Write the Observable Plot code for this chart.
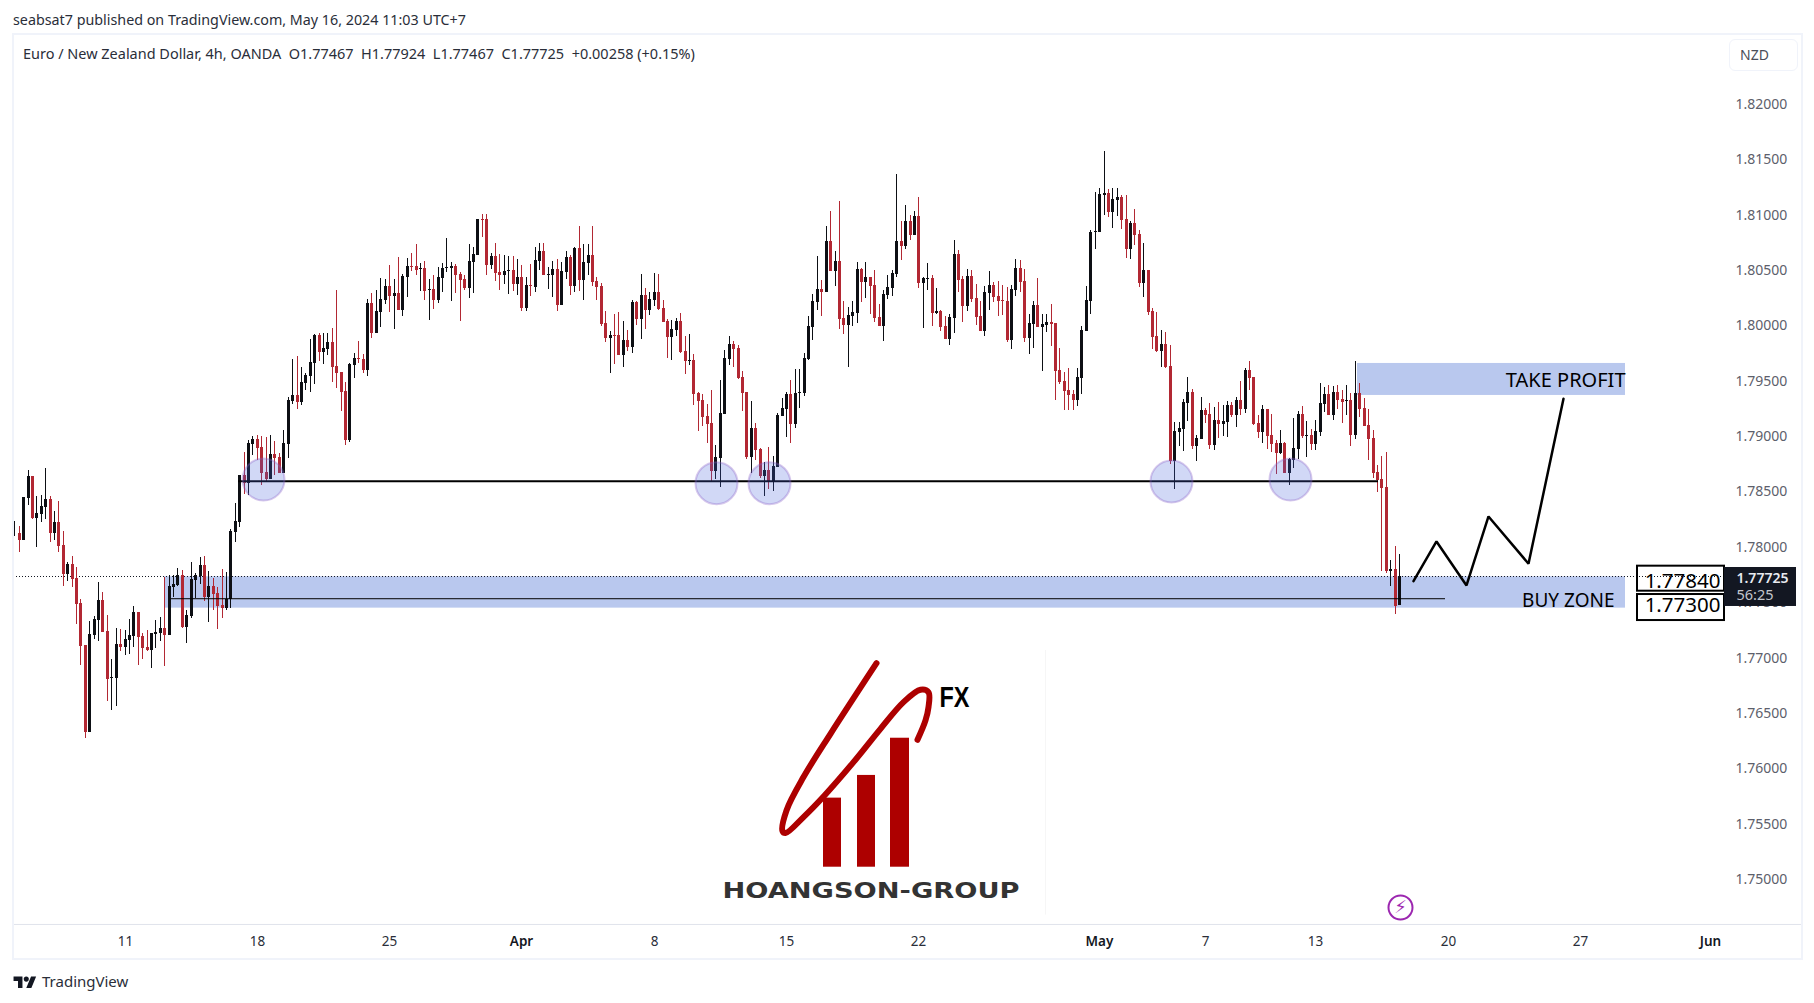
<!DOCTYPE html>
<html>
<head>
<meta charset="utf-8">
<script src="https://cdn.jsdelivr.net/npm/d3@7"></script>
<script src="https://cdn.jsdelivr.net/npm/@observablehq/plot@0.6"></script>
<style>
  html,body{margin:0;padding:0;background:#fff;width:1814px;height:1003px;overflow:hidden;}
  body{font-family:"Noto Sans",sans-serif;color:#131722;}
  #wrap{position:relative;width:1814px;height:1003px;}
  #pub{position:absolute;left:13px;top:10px;font-size:14.3px;line-height:20px;color:#2a2e39;white-space:pre;}
  #legend{position:absolute;left:23px;top:44px;font-size:14.47px;line-height:20px;color:#2a2e39;white-space:pre;}
  #frame{position:absolute;left:12px;top:33px;width:1787px;height:923px;border:2px solid #f0f3fa;pointer-events:none;}
  #nzd{position:absolute;left:1729px;top:39px;width:67px;height:30px;border:1px solid #f0f3fa;border-radius:6px;font-size:14px;line-height:30px;color:#4a4e59;text-indent:10px;}
  #chart{position:absolute;left:0;top:33px;}
  #foot{position:absolute;left:13px;top:970px;font-size:15px;line-height:22px;color:#2a2e39;display:flex;align-items:center;gap:5px;}
</style>
</head>
<body>
<div id="wrap">
  <div id="pub">seabsat7 published on TradingView.com, May 16, 2024 11:03 UTC+7</div>
  <div id="chart"></div>
  <div id="frame"></div>
  <div id="legend">Euro / New Zealand Dollar, 4h, OANDA  O1.77467  H1.77924  L1.77467  C1.77725  +0.00258 (+0.15%)</div>
  <div id="nzd">NZD</div>
  <div id="foot"><svg width="24" height="14" viewBox="0 0 36 22"><path d="M14 22H7V11H0V4h14v18zM28 22h-8l7.5-18h8L28 22z" fill="#131722"/><circle cx="20" cy="8" r="4" fill="#131722"/></svg><span>TradingView</span></div>
</div>
<script>
// [open, high, low, close] per 4h bar
const weekMar04 = [
[1.78114,1.78225,1.78090,1.78117],[1.78117,1.78180,1.77945,1.78053],[1.78053,1.78439,1.78053,1.78439],[1.78433,1.78685,1.78369,1.78631],[1.78631,1.78631,1.78243,1.78249],
[1.78252,1.78451,1.77990,1.78297],[1.78288,1.78460,1.78216,1.78360],[1.78351,1.78704,1.78243,1.78424],[1.78424,1.78451,1.78035,1.78117],[1.78117,1.78315,1.78053,1.78216],
[1.78216,1.78406,1.77945,1.77999],[1.78008,1.78135,1.77638,1.77746],[1.77746,1.77855,1.77683,1.77837],[1.77837,1.77909,1.77629,1.77701],[1.77710,1.77810,1.77295,1.77475],
[1.77485,1.77521,1.76925,1.77096],[1.77105,1.77105,1.76265,1.76320],[1.76320,1.77322,1.76320,1.77205],[1.77196,1.77367,1.77159,1.77340],[1.77331,1.77674,1.77141,1.77512],
[1.77512,1.77584,1.77223,1.77223],[1.77232,1.77376,1.76600,1.76798],[1.76810,1.76979,1.76518,1.76816],[1.76807,1.77259,1.76554,1.77114],[1.77114,1.77250,1.77051,1.77084]];
const weekMar11 = [
[1.77087,1.77241,1.77015,1.77159],[1.77153,1.77340,1.77024,1.77196],[1.77187,1.77457,1.77087,1.77403],[1.77403,1.77403,1.76925,1.77177],[1.77187,1.77214,1.76979,1.77078],
[1.77087,1.77241,1.77051,1.77060],[1.77060,1.77214,1.76898,1.77214],[1.77205,1.77331,1.77078,1.77223],[1.77214,1.77358,1.77141,1.77259],[1.77259,1.77716,1.76916,1.77196],
[1.77196,1.77737,1.77196,1.77638],[1.77629,1.77737,1.77539,1.77656],[1.77647,1.77801,1.77638,1.77737],[1.77737,1.77782,1.77259,1.77268],[1.77268,1.77421,1.77123,1.77376],
[1.77367,1.77855,1.77349,1.77701],[1.77692,1.77755,1.77530,1.77737],[1.77728,1.77900,1.77656,1.77828],[1.77828,1.77909,1.77503,1.77539],[1.77539,1.77773,1.77313,1.77638],
[1.77638,1.77710,1.77421,1.77566],[1.77575,1.77629,1.77250,1.77457],[1.77466,1.77792,1.77349,1.77439],[1.77439,1.77764,1.77421,1.77521],[1.77521,1.78153,1.77439,1.78135],
[1.78126,1.78388,1.78035,1.78225],[1.78216,1.78640,1.78171,1.78640],[1.78640,1.78848,1.78469,1.78568],[1.78568,1.78956,1.78460,1.78929],[1.78920,1.78993,1.78821,1.78965]];
const weekMar18 = [
[1.78965,1.79002,1.78776,1.78884],[1.78893,1.78993,1.78550,1.78658],[1.78667,1.78983,1.78577,1.78604],[1.78604,1.79002,1.78604,1.78830],[1.78830,1.78947,1.78640,1.78794],
[1.78803,1.78839,1.78658,1.78658],[1.78658,1.79047,1.78658,1.78929],[1.78921,1.79345,1.78794,1.79318],[1.79309,1.79688,1.79282,1.79363],[1.79363,1.79715,1.79237,1.79300],
[1.79300,1.79616,1.79273,1.79481],[1.79472,1.79562,1.79408,1.79544],[1.79535,1.79869,1.79390,1.79661],[1.79652,1.79914,1.79462,1.79905],[1.79905,1.79923,1.79670,1.79751],
[1.79751,1.79923,1.79643,1.79788],[1.79779,1.79923,1.79724,1.79842],[1.79842,1.79968,1.79481,1.79616],[1.79625,1.80311,1.79426,1.79562],[1.79571,1.79571,1.79219,1.79390],
[1.79399,1.79481,1.78912,1.78957],[1.78957,1.79652,1.78939,1.79643],[1.79634,1.79742,1.79517,1.79697],[1.79697,1.79851,1.79652,1.79688],[1.79688,1.79733,1.79562,1.79589],
[1.79589,1.80230,1.79535,1.80194],[1.80194,1.80284,1.79878,1.79923],[1.79923,1.80311,1.79923,1.80122],[1.80113,1.80420,1.79977,1.80230],[1.80221,1.80411,1.80185,1.80347]];
const weekMar25 = [
[1.80347,1.80537,1.80113,1.80257],[1.80257,1.80411,1.79959,1.80284],[1.80284,1.80609,1.80131,1.80131],[1.80131,1.80456,1.80077,1.80438],[1.80429,1.80600,1.80248,1.80528],
[1.80528,1.80645,1.80483,1.80519],[1.80528,1.80727,1.80447,1.80492],[1.80501,1.80555,1.80302,1.80510],[1.80510,1.80573,1.80221,1.80302],[1.80311,1.80411,1.80040,1.80320],
[1.80320,1.80447,1.80140,1.80221],[1.80221,1.80519,1.80194,1.80429],[1.80420,1.80555,1.80293,1.80510],[1.80510,1.80781,1.80474,1.80519],[1.80510,1.80564,1.80212,1.80528],
[1.80528,1.80546,1.80284,1.80447],[1.80456,1.80474,1.80031,1.80402],[1.80411,1.80447,1.80311,1.80329],[1.80329,1.80727,1.80239,1.80573],[1.80564,1.80700,1.80284,1.80636],
[1.80627,1.80952,1.80627,1.80952],[1.80952,1.80998,1.80790,1.80943],[1.80952,1.80998,1.80447,1.80537],[1.80537,1.80645,1.80501,1.80618],[1.80618,1.80736,1.80393,1.80465],
[1.80474,1.80636,1.80311,1.80447],[1.80447,1.80627,1.80365,1.80483],[1.80483,1.80618,1.80275,1.80492],[1.80492,1.80618,1.80302,1.80365],[1.80365,1.80591,1.80266,1.80429]];
const weekApr01 = [
[1.80429,1.80537,1.80122,1.80149],[1.80149,1.80429,1.80122,1.80356],[1.80356,1.80546,1.80257,1.80347],[1.80338,1.80700,1.80293,1.80582],[1.80573,1.80736,1.80492,1.80663],
[1.80663,1.80736,1.80447,1.80447],[1.80447,1.80519,1.80320,1.80456],[1.80447,1.80573,1.80248,1.80501],[1.80501,1.80591,1.80122,1.80176],[1.80176,1.80564,1.80176,1.80483],
[1.80474,1.80663,1.80411,1.80609],[1.80609,1.80627,1.80266,1.80347],[1.80347,1.80700,1.80293,1.80691],[1.80691,1.80889,1.80302,1.80402],[1.80402,1.80727,1.80221,1.80564],
[1.80555,1.80727,1.80447,1.80627],[1.80627,1.80889,1.80347,1.80384],[1.80393,1.80429,1.80221,1.80338],[1.80347,1.80375,1.79986,1.80004],[1.80013,1.80122,1.79842,1.79878],
[1.79878,1.79941,1.79562,1.79905],[1.79905,1.80095,1.79643,1.79896],[1.79905,1.80113,1.79724,1.79724],[1.79724,1.80031,1.79616,1.79860],[1.79860,1.79950,1.79760,1.79797],
[1.79797,1.80221,1.79742,1.80203],[1.80203,1.80212,1.79995,1.80049],[1.80049,1.80456,1.79869,1.80266],[1.80266,1.80329,1.79959,1.80131],[1.80131,1.80293,1.80086,1.80230]];
const weekApr08 = [
[1.80221,1.80465,1.80167,1.80293],[1.80293,1.80456,1.80131,1.80140],[1.80149,1.80221,1.80022,1.80022],[1.80031,1.80049,1.79697,1.79887],[1.79887,1.80040,1.79679,1.79959],
[1.79950,1.80058,1.79896,1.80031],[1.80031,1.80104,1.79742,1.79751],[1.79760,1.79896,1.79553,1.79670],[1.79670,1.79914,1.79634,1.79679],[1.79679,1.79733,1.79273,1.79372],
[1.79381,1.79390,1.79038,1.79309],[1.79318,1.79372,1.79083,1.79164],[1.79174,1.79282,1.78930,1.79101],[1.79110,1.79408,1.78578,1.78677],[1.78677,1.78912,1.78605,1.78803],
[1.78794,1.79499,1.78532,1.79201],[1.79192,1.79769,1.79192,1.79697],[1.79688,1.79896,1.79634,1.79824],[1.79824,1.79851,1.79616,1.79779],[1.79788,1.79815,1.79508,1.79517],
[1.79526,1.79580,1.79219,1.79381],[1.79390,1.79390,1.78785,1.78803],[1.78803,1.79309,1.78659,1.79065],[1.79065,1.79110,1.78776,1.78866],[1.78876,1.78885,1.78614,1.78632],
[1.78632,1.78758,1.78451,1.78686],[1.78686,1.78894,1.78514,1.78587],[1.78587,1.78812,1.78496,1.78722],[1.78713,1.79201,1.78713,1.79183],[1.79174,1.79336,1.79174,1.79246]];
const weekApr15 = [
[1.79237,1.79390,1.78984,1.79372],[1.79372,1.79498,1.78930,1.79101],[1.79101,1.79598,1.79065,1.79381],[1.79381,1.79598,1.79246,1.79390],[1.79381,1.79742,1.79354,1.79697],
[1.79688,1.80076,1.79679,1.79986],[1.79977,1.80275,1.79860,1.80212],[1.80203,1.80618,1.80130,1.80320],[1.80320,1.80401,1.80076,1.80293],[1.80293,1.80889,1.80293,1.80754],
[1.80754,1.81024,1.80483,1.80483],[1.80483,1.80663,1.80347,1.80573],[1.80573,1.81115,1.79959,1.80049],[1.80058,1.80212,1.79914,1.79995],[1.79995,1.80158,1.79616,1.80085],
[1.80076,1.80212,1.79986,1.80112],[1.80103,1.80564,1.80013,1.80501],[1.80501,1.80510,1.80203,1.80383],[1.80383,1.80564,1.80239,1.80428],[1.80428,1.80428,1.80094,1.80347],
[1.80356,1.80492,1.80022,1.80058],[1.80067,1.80185,1.79986,1.79986],[1.79986,1.80311,1.79851,1.80275],[1.80266,1.80447,1.80230,1.80338],[1.80329,1.80492,1.80257,1.80465],
[1.80456,1.81359,1.80428,1.80754],[1.80754,1.80934,1.80582,1.80708],[1.80708,1.81079,1.80681,1.80934],[1.80934,1.80988,1.80763,1.80808],[1.80808,1.81024,1.80808,1.80979]];
const weekApr22 = [
[1.80979,1.81151,1.80329,1.80374],[1.80374,1.80428,1.79968,1.80419],[1.80410,1.80555,1.80311,1.80419],[1.80419,1.80447,1.79986,1.80103],[1.80103,1.80329,1.80094,1.80121],
[1.80121,1.80130,1.79941,1.79977],[1.79986,1.80076,1.79869,1.79869],[1.79869,1.80094,1.79814,1.80067],[1.80058,1.80763,1.79923,1.80636],[1.80636,1.80672,1.80293,1.80401],
[1.80410,1.80438,1.80022,1.80167],[1.80167,1.80501,1.80121,1.80438],[1.80438,1.80492,1.80203,1.80230],[1.80239,1.80365,1.79995,1.80067],[1.80076,1.80212,1.79941,1.79941],
[1.79941,1.80347,1.79896,1.80293],[1.80284,1.80483,1.80130,1.80356],[1.80356,1.80383,1.80203,1.80248],[1.80257,1.80392,1.80076,1.80212],[1.80221,1.80356,1.80085,1.80212],
[1.80212,1.80338,1.79842,1.79860],[1.79860,1.80356,1.79778,1.80320],[1.80311,1.80591,1.80257,1.80510],[1.80510,1.80582,1.80293,1.80383],[1.80392,1.80501,1.79842,1.79878],
[1.79878,1.80094,1.79733,1.80013],[1.80004,1.80212,1.79787,1.80176],[1.80176,1.80419,1.79977,1.79977],[1.79977,1.80094,1.79580,1.80004],[1.79995,1.80094,1.79932,1.80022]];
const weekApr29 = [
[1.80022,1.80185,1.79805,1.80004],[1.80013,1.80013,1.79318,1.79580],[1.79589,1.79787,1.79462,1.79480],[1.79489,1.79571,1.79227,1.79399],[1.79408,1.79607,1.79227,1.79363],
[1.79372,1.79408,1.79227,1.79318],[1.79318,1.79607,1.79264,1.79525],[1.79517,1.79986,1.79372,1.79950],[1.79941,1.80348,1.79941,1.80221],[1.80212,1.80853,1.80095,1.80835],
[1.80835,1.81196,1.80682,1.80844],[1.80835,1.81233,1.80835,1.81178],[1.81169,1.81567,1.80989,1.81187],[1.81187,1.81224,1.80971,1.81016],[1.81016,1.81233,1.80871,1.81133],
[1.81124,1.81233,1.80980,1.81151],[1.81151,1.81169,1.80862,1.80944],[1.80953,1.81169,1.80600,1.80682],[1.80682,1.80935,1.80591,1.80917],[1.80917,1.81043,1.80718,1.80808],
[1.80817,1.80853,1.80339,1.80375],[1.80375,1.80736,1.80248,1.80492],[1.80492,1.80492,1.80086,1.80113],[1.80122,1.80149,1.79779,1.79887],[1.79896,1.80113,1.79752,1.79761],
[1.79761,1.79950,1.79616,1.79824],[1.79824,1.79932,1.79607,1.79616],[1.79625,1.79815,1.78740,1.78767],[1.78767,1.79120,1.78515,1.79038],[1.79029,1.79120,1.78903,1.79065]];
const weekMay06 = [
[1.79056,1.79327,1.78858,1.79300],[1.79291,1.79526,1.79129,1.79390],[1.79390,1.79418,1.78876,1.78903],[1.78903,1.79002,1.78767,1.78975],[1.78966,1.79345,1.78966,1.79228],
[1.79228,1.79246,1.79111,1.79183],[1.79192,1.79291,1.78876,1.78912],[1.78912,1.79255,1.78867,1.79138],[1.79138,1.79300,1.78975,1.79101],[1.79101,1.79273,1.78993,1.79129],
[1.79120,1.79309,1.78984,1.79273],[1.79273,1.79300,1.79165,1.79183],[1.79183,1.79345,1.79074,1.79318],[1.79318,1.79490,1.79183,1.79237],[1.79237,1.79607,1.79201,1.79589],
[1.79589,1.79670,1.79408,1.79517],[1.79526,1.79526,1.79092,1.79101],[1.79111,1.79183,1.78975,1.79029],[1.79029,1.79273,1.78930,1.79237],[1.79237,1.79237,1.78876,1.78993],
[1.79002,1.79192,1.78849,1.78921],[1.78930,1.78957,1.78650,1.78840],[1.78840,1.79047,1.78831,1.78930],[1.78930,1.78939,1.78659,1.78659],[1.78659,1.78794,1.78551,1.78785],
[1.78776,1.79156,1.78704,1.78885],[1.78876,1.79219,1.78785,1.79192],[1.79192,1.79264,1.78975,1.78993],[1.78993,1.79129,1.78803,1.79002],[1.79002,1.79056,1.78867,1.78921]];
const weekMay13 = [
[1.78921,1.79138,1.78867,1.79038],[1.79029,1.79472,1.78993,1.79291],[1.79282,1.79436,1.79210,1.79372],[1.79372,1.79454,1.79183,1.79183],[1.79183,1.79445,1.79138,1.79390],
[1.79390,1.79454,1.79237,1.79318],[1.79327,1.79408,1.79111,1.79300],[1.79309,1.79454,1.79183,1.79318],[1.79318,1.79381,1.78903,1.79002],[1.79002,1.79670,1.78966,1.79381],
[1.79381,1.79472,1.79165,1.79237],[1.79246,1.79336,1.79083,1.79083],[1.79092,1.79237,1.78776,1.78966],[1.78975,1.79047,1.78614,1.78659],[1.78668,1.78731,1.78487,1.78596],
[1.78604,1.78812,1.77773,1.78523],[1.78532,1.78848,1.77755,1.77773],[1.77773,1.77873,1.77638,1.77791],[1.77791,1.77999,1.77385,1.77457],[1.77467,1.77924,1.77467,1.77725]];

const priceTicks = [1.75,1.755,1.76,1.765,1.77,1.775,1.78,1.785,1.79,1.795,1.80,1.805,1.81,1.815,1.82];
const dayTicks = [25,55,85,145,175,205,270,295,325,355];
const dayLabels = ["11","18","25","8","15","22","7","13","20","27"];
const monthTicks = [115,246,384.5];
const monthLabels = ["Apr","May","Jun"];

const lastPrice = 1.77725;
const supportLevel = 1.78587;
const buyLevel = 1.77527;
const buyZone = [{x1:33.9,x2:365.2,y1:1.77442,y2:1.77725,label:"BUY ZONE"}];
const profitZone = [{x1:304.4,x2:365.2,y1:1.79363,y2:1.79652,label:"TAKE PROFIT"}];
const touches = [[56.4,1.78604],[159.1,1.78571],[171.1,1.78571],[262.3,1.78586],[289.3,1.78604]];
const forecast = [[317.1,1.77686],[322.3,1.78044],[329.2,1.77647],[334.2,1.78270],[343.3,1.77843],[351.3,1.79333]];
const priceBoxes = [{x1:368,x2:387.7,y1:1.77595,y2:1.77821,ty:1.77683,label:"1.77840"},{x1:368,x2:387.7,y1:1.77330,y2:1.77565,ty:1.77466,label:"1.77300"}];
const logoBars = [{x1:183.4,x2:187.5,y:1.75726},{x1:191.1,x2:195.2,y:1.75931},{x1:198.6,x2:202.8,y:1.76267}];
const logoBase = 1.75102;
const swoosh = [[195.5,1.76945],[185.0,1.76307],[178.9,1.75916],[175.1,1.75615],[174.0,1.75428],[174.8,1.75410],[178.9,1.75555],[183.5,1.75750],[190.3,1.76051],[196.3,1.76352],[201.6,1.76593],[205.4,1.76705],[207.3,1.76683],[207.3,1.76548],[206.5,1.76428],[204.8,1.76253]];

const UP = "#0d0f14", DOWN = "#b22833", ZONE = "#b9c8ee", PURPLE = "#9c27b0", LOGO = "#ad0000";

const bars = [...weekMar04,...weekMar11,...weekMar18,...weekMar25,...weekApr01,...weekApr08,...weekApr15,...weekApr22,...weekApr29,...weekMay06,...weekMay13]
  .map(([o,h,l,c],i)=>({i,o,h,l,c,col:c>=o?UP:DOWN}));

const chart = Plot.plot({
  width:1814, height:925,
  marginLeft:0, marginRight:89, marginTop:0, marginBottom:34,
  style:{background:"transparent",fontFamily:"'Noto Sans',sans-serif",overflow:"visible"},
  x:{domain:[0,314],range:[14.3,1399],round:true},
  y:{domain:[1.75,1.82],range:[845,70]},
  marks:[
    Plot.ruleY([1.74585],{x1:-0.3,x2:405.2,stroke:"#e0e3eb",strokeWidth:1}),
    Plot.axisY(priceTicks,{anchor:"right",tickFormat:d3.format(".5f"),tickSize:0,tickPadding:10,textAnchor:"start",label:null,fill:"#5d606b",fontSize:14,dy:1}),
    Plot.axisX(dayTicks,{anchor:"bottom",tickFormat:d=>dayLabels[dayTicks.indexOf(d)],tickSize:0,tickPadding:11.5,label:null,fill:"#2a2e39",fontSize:13.5}),
    Plot.axisX(monthTicks,{anchor:"bottom",tickFormat:d=>monthLabels[monthTicks.indexOf(d)],tickSize:0,tickPadding:11.5,label:null,fill:"#131722",fontSize:13.5,fontWeight:600}),

    Plot.rect(buyZone,{x1:"x1",x2:"x2",y1:"y1",y2:"y2",fill:ZONE}),
    Plot.rect(profitZone,{x1:"x1",x2:"x2",y1:"y1",y2:"y2",fill:ZONE}),
    Plot.ruleY([lastPrice],{x1:-0.3,x2:387.9,stroke:"#131722",strokeWidth:1,strokeDasharray:"1,2",shapeRendering:"crispEdges"}),

    Plot.ruleX(bars,{x:"i",y1:"l",y2:"h",stroke:"col",strokeWidth:1,shapeRendering:"crispEdges"}),
    Plot.ruleX(bars,{x:"i",y1:"o",y2:"c",stroke:"col",strokeWidth:3,shapeRendering:"crispEdges"}),

    Plot.ruleY([supportLevel],{x1:50.7,x2:309.3,stroke:"#000",strokeWidth:2}),
    Plot.ruleY([buyLevel],{x1:35.5,x2:324.4,stroke:"#000",strokeWidth:1}),
    Plot.dot(touches,{x:d=>d[0],y:d=>d[1],r:21,fill:"rgb(70,100,220)",fillOpacity:0.25,stroke:"rgb(140,100,200)",strokeOpacity:0.35,strokeWidth:2}),
    Plot.line(forecast,{x:d=>d[0],y:d=>d[1],stroke:"#000",strokeWidth:2.5,strokeLinejoin:"miter"}),

    Plot.text(profitZone,{x:"x2",y:1.79498,text:"label",textAnchor:"end",fontSize:20,fill:"#000",fontFamily:"'Noto Sans',sans-serif"}),
    Plot.text(buyZone,{x:362.7,y:1.77511,text:"label",textAnchor:"end",fontSize:19,fill:"#000",fontFamily:"'Noto Sans',sans-serif"}),

    Plot.rect(priceBoxes,{x1:"x1",x2:"x2",y1:"y1",y2:"y2",fill:"none",stroke:"#000",strokeWidth:2}),
    Plot.text(priceBoxes,{x:d=>d.x2-0.9,y:"ty",text:"label",textAnchor:"end",fontSize:20.5,fill:"#000"}),

    Plot.rect([0],{x1:387.7,x2:404,y1:1.77457,y2:1.77809,fill:"#131722"}),
    Plot.text(["1.77725"],{x:390.5,y:1.77710,text:d=>d,textAnchor:"start",fill:"#e8eaf0",fontSize:14,fontWeight:600}),
    Plot.text(["56:25"],{x:390.5,y:1.77558,text:d=>d,textAnchor:"start",fill:"#c4c6cd",fontSize:14.5}),

    Plot.ruleX([233.7],{y1:1.7467,y2:1.7706,stroke:"#f6f6f6",strokeWidth:1}),
    Plot.rect(logoBars,{x1:"x1",x2:"x2",y1:logoBase,y2:"y",fill:LOGO}),
    Plot.line(swoosh,{x:d=>d[0],y:d=>d[1],curve:"catmull-rom",stroke:LOGO,strokeWidth:6,strokeLinecap:"round"}),
    Plot.text(["FX"],{x:209.8,y:1.76635,text:d=>d,textAnchor:"start",fontSize:29,fontWeight:700,fill:"#000",fontFamily:"'Liberation Sans',sans-serif",className:"logofx"}),
    Plot.text(["HOANGSON-GROUP"],{x:160.4,y:1.74882,text:d=>d,textAnchor:"start",fontSize:21,fontWeight:700,fill:"#333",fontFamily:"'DejaVu Sans',sans-serif",className:"logoword"}),

    Plot.dot([0],{x:314.2,y:1.74738,r:12,fill:"#fff",stroke:PURPLE,strokeWidth:2}),
    Plot.text(["\u26A1"],{x:314.2,y:1.74738,text:d=>d,fill:PURPLE,fontSize:18,fontFamily:"'DejaVu Sans',sans-serif"})
  ]
});
d3.select(chart).selectAll(".logoword text").attr("textLength",297).attr("lengthAdjust","spacingAndGlyphs");
d3.select(chart).selectAll(".logofx text").attr("textLength",30).attr("lengthAdjust","spacingAndGlyphs");
document.getElementById("chart").appendChild(chart);
</script>
</body>
</html>
